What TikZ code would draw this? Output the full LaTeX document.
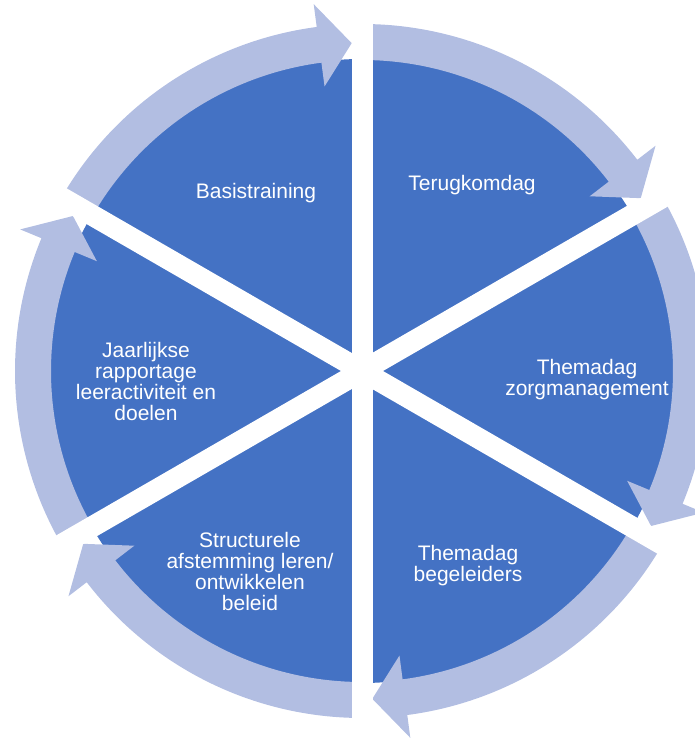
\documentclass[tikz,border=0pt]{standalone}
\usepackage{fontspec}
\setmainfont{Liberation Sans}
\usetikzlibrary{calc}
\definecolor{segblue}{HTML}{4472C4}
\definecolor{ringblue}{RGB}{178,190,226}
\begin{document}
\begin{tikzpicture}[x=1pt,y=1pt,
  lbl/.style={text=white,align=center,font=\fontsize{21}{21}\selectfont,inner sep=0pt},
  ringarrow/.style={fill=ringblue,draw=none},
  gapline/.style={draw=white,line width=21pt}]
\useasboundingbox (0,0) rectangle (695,741);
\clip (0,0) rectangle (695,741);
\coordinate (C) at (362,370);
% blue disc
\fill[segblue] (C) circle[radius=312];
% circular arrows
\foreach \k in {0,...,5}{
  \begin{scope}[rotate around={-60*\k:(C)}]
    \fill[ringarrow] ($(C)+(90:347)$) arc[start angle=90,end angle=37.5,radius=347]
      -- ($(C)+(37.5:370)$) -- ($(C)+(31.8:328)$) -- ($(C)+(37.5:287)$)
      -- ($(C)+(37.5:311)$) arc[start angle=37.5,end angle=90,radius=311] -- cycle;
  \end{scope}
}
% white gaps
\foreach \a in {90,30,-30,-90,-150,150}{
  \coordinate (g\a) at ($(C)+(\a:420)$);
  \draw[gapline] (C) -- (g\a);
}
% labels
\node[lbl] (n1) at (256,548) {Basistraining};
\node[lbl] (n2) at (472,556) {Terugkomdag};
\node[lbl] (n3) at (587,361) {Themadag\\zorgmanagement};
\node[lbl] (n4) at (468,175) {Themadag\\begeleiders};
\node[lbl] (n5) at (250,170) {Structurele\\afstemming leren/\\ontwikkelen\\beleid};
\node[lbl] (n6) at (146,360) {Jaarlijkse\\rapportage\\leeractiviteit en\\doelen};
\end{tikzpicture}
\end{document}
